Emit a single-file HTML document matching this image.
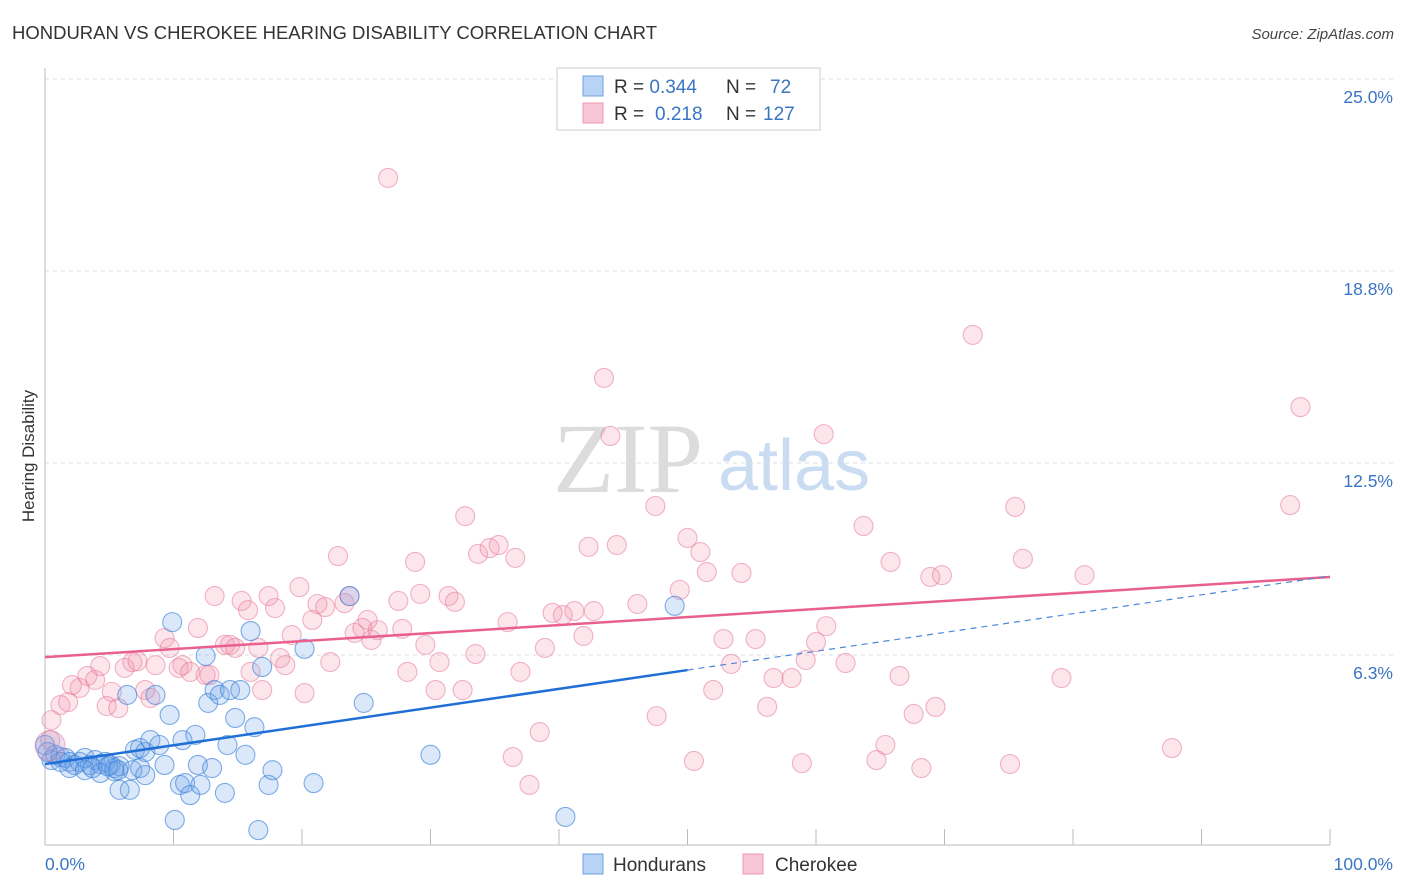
<!DOCTYPE html>
<html><head><meta charset="utf-8"><style>
body{margin:0;background:#fff;font-family:"Liberation Sans",sans-serif}
svg{display:block}
</style></head><body>
<svg id="chart" width="1406" height="892" xmlns="http://www.w3.org/2000/svg">
<text x="12" y="39" font-size="18.5" fill="#333" font-family="Liberation Sans, sans-serif" textLength="645">HONDURAN VS CHEROKEE HEARING DISABILITY CORRELATION CHART</text>
<text x="1394" y="39" font-size="15" fill="#444" text-anchor="end" font-style="italic" font-family="Liberation Sans, sans-serif">Source: ZipAtlas.com</text>
<g>
<text x="553" y="492" font-size="100" fill="#dcdcdc" font-family="Liberation Serif, serif">ZIP</text>
<text x="718" y="490" font-size="72" fill="#c9dcf2" font-family="Liberation Sans, sans-serif">atlas</text>
</g>
<g id="grid"></g>
<g id="axes"></g>
<g id="marks"></g>
<text transform="translate(34,456) rotate(-90)" font-size="17" fill="#333" text-anchor="middle" font-family="Liberation Sans, sans-serif">Hearing Disability</text>
<g>
<rect x="557" y="68" width="263" height="62" fill="#fff" stroke="#ccc"/>
<rect x="583" y="76" width="20" height="20" fill="#b8d3f5" stroke="#6fa0e0"/>
<rect x="583" y="103" width="20" height="20" fill="#f8c6d4" stroke="#ec9ab2"/>
<text x="614" y="93" font-size="19" fill="#333">R = <tspan fill="#3a75c4">0.344</tspan><tspan x="726">N = </tspan><tspan x="770" fill="#3a75c4">72</tspan></text>
<text x="614" y="120" font-size="19" fill="#333">R = <tspan x="655" fill="#3a75c4">0.218</tspan><tspan x="726">N = </tspan><tspan x="763" fill="#3a75c4">127</tspan></text>
</g>
<g>
<rect x="583" y="854" width="20" height="20" fill="#b8d3f5" stroke="#6fa0e0"/>
<text x="613" y="871" font-size="19" fill="#333">Hondurans</text>
<rect x="743" y="854" width="20" height="20" fill="#f8c6d4" stroke="#ec9ab2"/>
<text x="775" y="871" font-size="19" fill="#333">Cherokee</text>
</g>
</svg>
<script>
const yTicks=[6.25,12.5,18.75,25];
const yTickLabels=["6.3%","12.5%","18.8%","25.0%"];
const xTickLabels=["0.0%","100.0%"];
const blueX=[0.5,0.8,1.2,1.6,1.9,2.3,2.7,3.1,3.5,3.9,4.3,4.7,5.1,5.4,5.8,4.3,5.4,6.4,5.8,6.6,7.0,7.4,7.8,8.2,6.8,7.4,7.8,8.6,8.9,9.3,9.7,9.9,10.1,10.5,10.7,10.9,11.3,11.7,11.9,12.1,12.5,12.7,13.0,13.2,13.6,14.0,14.2,14.4,14.8,15.2,15.6,16.0,16.3,16.6,16.9,17.4,17.7,20.2,20.9,23.7,24.8,30.0,40.5,49.0,0,0.2,1.2,1.9,3.1,3.7,4.9,5.7];
const blueY=[2.83,3.0,2.93,2.9,2.77,2.67,2.77,2.9,2.67,2.83,2.7,2.77,2.67,2.57,2.63,2.41,2.47,4.95,1.86,1.86,3.16,3.22,3.09,3.48,2.5,2.57,2.34,4.95,3.32,2.67,4.3,7.32,0.88,2.02,3.48,2.08,1.69,3.65,2.67,2.02,6.22,4.69,2.57,5.11,4.95,1.76,3.32,5.11,4.2,5.11,3.0,7.03,3.9,0.55,5.86,2.02,2.5,6.45,2.08,8.17,4.69,3.0,0.98,7.85,3.32,3.09,2.77,2.57,2.5,2.57,2.63,2.5];
const pinkX=[0.5,0.4,1.2,1.8,2.1,2.7,3.3,3.9,4.3,4.8,5.2,5.7,6.2,6.8,7.2,7.8,8.2,8.6,9.3,9.7,10.4,10.7,11.3,11.9,12.5,12.8,13.2,14.0,14.4,14.8,15.3,15.8,16.0,16.6,16.9,17.4,17.9,18.3,18.7,19.2,19.8,20.2,20.8,21.2,21.8,22.2,22.8,23.3,23.7,24.1,24.7,25.1,25.4,25.9,26.7,27.5,27.8,28.2,28.8,29.2,29.6,30.4,30.7,31.4,31.9,32.5,32.7,33.5,33.7,34.6,35.3,36.0,36.4,36.6,37.0,37.7,38.5,38.9,39.5,40.3,41.2,41.9,42.3,42.7,43.5,44.0,44.5,46.1,47.5,47.6,49.4,50.0,50.5,51.0,51.5,52.0,52.8,53.4,54.2,55.3,56.2,56.7,58.1,58.9,59.2,60.0,60.6,60.8,62.3,63.7,64.7,65.4,65.8,66.5,67.6,68.2,68.9,69.3,69.8,72.2,75.1,75.5,76.1,79.1,80.9,87.7,96.9,97.7];
const pinkY=[4.13,3.48,4.62,4.72,5.27,5.18,5.57,5.44,5.89,4.59,5.05,4.52,5.83,6.02,6.05,5.11,4.85,5.92,6.8,6.48,5.83,5.92,5.7,7.13,5.6,5.6,8.17,6.58,6.58,6.48,8.01,7.71,5.7,6.48,5.11,8.17,7.78,6.15,5.92,6.9,8.46,5.01,7.39,7.91,7.81,6.02,9.47,7.94,8.17,6.97,7.13,7.39,6.74,7.06,21.78,8.01,7.1,5.7,9.28,8.24,6.58,5.11,6.02,8.17,7.98,5.11,10.77,6.28,9.54,9.73,9.83,7.32,2.93,9.41,5.7,2.02,3.74,6.48,7.62,7.55,7.68,6.87,9.77,7.68,15.27,13.38,9.83,7.91,11.1,4.26,8.37,10.06,2.8,9.6,8.95,5.11,6.77,5.96,8.92,6.77,4.56,5.5,5.5,2.73,6.09,6.67,13.44,7.19,5.99,10.45,2.83,3.32,9.28,5.57,4.33,2.57,8.79,4.56,8.85,16.67,2.7,11.07,9.38,5.5,8.85,3.22,11.13,14.32];
const pinkTrend=[6.18,8.79];
const blueTrend=[2.7,8.82];
const blueSolidEnd=50;
const NS="http://www.w3.org/2000/svg";
const X0=45,X1=1330,YB=847,PXPER=30.72;
function sx(v){return X0+(X1-X0)*v/100;}
function sy(v){return YB-v*PXPER;}
function mk(t,a,p){const e=document.createElementNS(NS,t);for(const k in a)e.setAttribute(k,a[k]);p.appendChild(e);return e;}
const grid=document.getElementById('grid'),axes=document.getElementById('axes'),marks=document.getElementById('marks');
yTicks.forEach((t,i)=>{
 const l=mk('line',{x1:45,x2:1393,y1:sy(t),y2:sy(t),stroke:'#ddd','stroke-dasharray':'4,4'},grid);
 
 
 const tx=mk('text',{x:1393,y:sy(t)+24,'font-size':17.5,fill:'#3a75c4','text-anchor':'end'},axes);
 tx.textContent=yTickLabels[i];
 
 
});
const ya=mk('line',{x1:45,x2:45,y1:68,y2:845,stroke:'#bbb'},axes);


const xa=mk('line',{x1:45,x2:1330,y1:845,y2:845,stroke:'#bbb'},axes);


for(let i=0;i<=10;i++){
 const t=mk('line',{x1:sx(i*10),x2:sx(i*10),y1:829,y2:845,stroke:'#bbb'},axes);
 
 
}
const xl0=mk('text',{x:45,y:870,'font-size':17.5,fill:'#3a75c4'},axes);xl0.textContent=xTickLabels[0];


const xl1=mk('text',{x:1393,y:870,'font-size':17.5,fill:'#3a75c4','text-anchor':'end'},axes);xl1.textContent=xTickLabels[1];


pinkX.forEach((x,i)=>{
 const c=mk('circle',{cx:sx(x),cy:sy(pinkY[i]),r:9.5,fill:'rgba(240,140,170,0.22)',stroke:'rgba(230,120,155,0.55)','stroke-width':1.1},marks);
 
 
});
blueX.forEach((x,i)=>{
 const c=mk('circle',{cx:sx(x),cy:sy(blueY[i]),r:9.5,fill:'rgba(110,165,230,0.25)',stroke:'rgba(60,130,220,0.65)','stroke-width':1.1},marks);
 
 
});
const big=mk('circle',{cx:sx(0.4),cy:sy(3.3),r:15,fill:'rgba(190,150,200,0.3)',stroke:'rgba(230,120,155,0.5)'},marks);


const pl=mk('line',{x1:sx(0),y1:sy(pinkTrend[0]),x2:sx(100),y2:sy(pinkTrend[1]),stroke:'#e8608f','stroke-width':2.5},marks);


const bv=v=>blueTrend[0]+(blueTrend[1]-blueTrend[0])*v/100;
const bl=mk('line',{x1:sx(0),y1:sy(bv(0)),x2:sx(blueSolidEnd),y2:sy(bv(blueSolidEnd)),stroke:'#1f6fd6','stroke-width':2.5},marks);


const bd=mk('line',{x1:sx(blueSolidEnd),y1:sy(bv(blueSolidEnd)),x2:sx(100),y2:sy(bv(100)),stroke:'#4a88d8','stroke-width':1.2,'stroke-dasharray':'6,5'},marks);


</script>
</body></html>
